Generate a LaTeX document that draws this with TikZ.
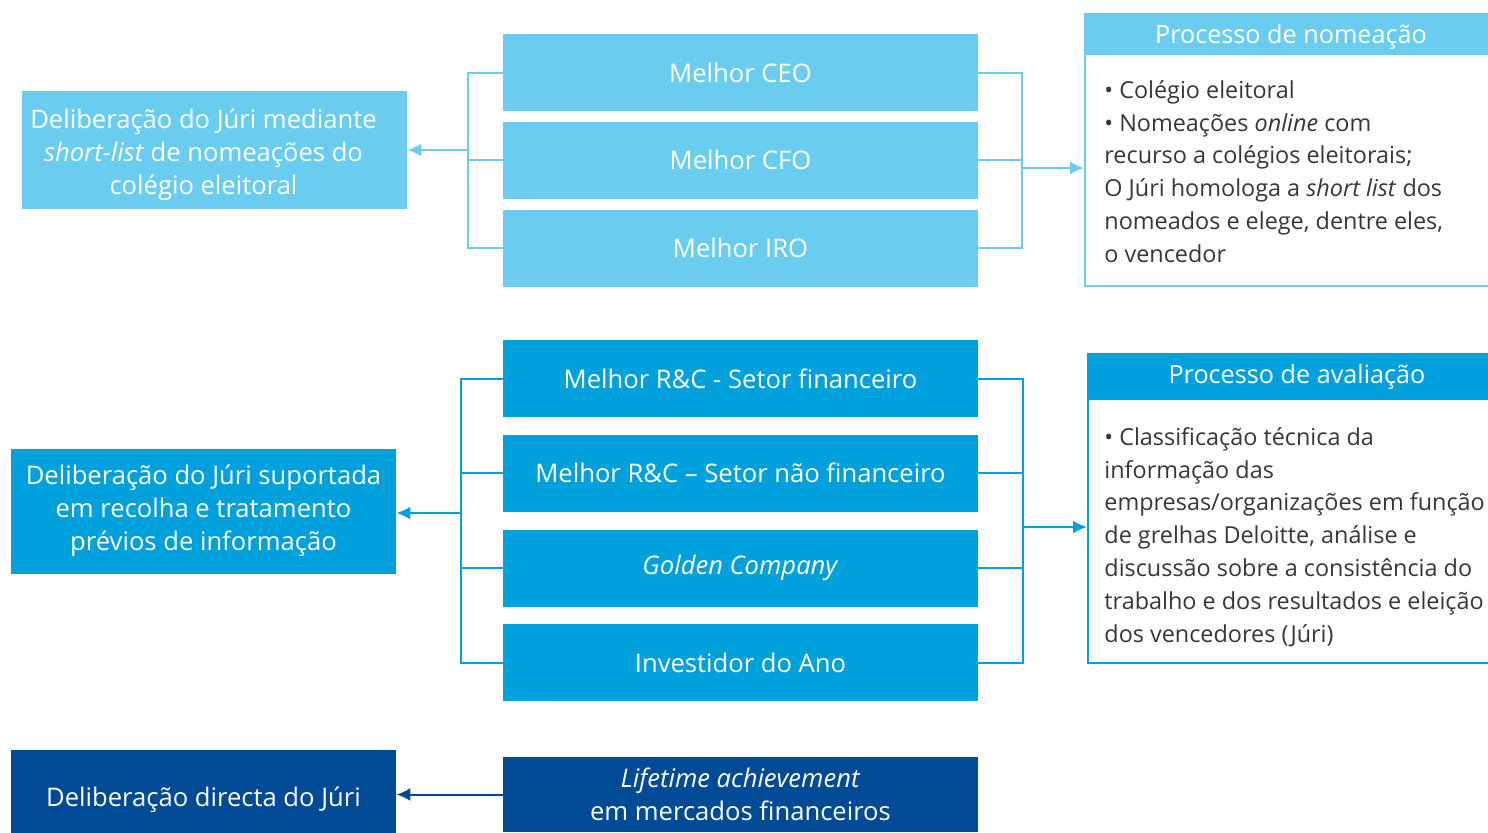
\documentclass[tikz,border=0pt]{standalone}
\usepackage{fontspec}
\setmainfont{Open Sans}
\usetikzlibrary{arrows.meta,positioning}
\definecolor{lightblue}{RGB}{106,205,240}
\definecolor{midblue}{RGB}{0,160,220}
\definecolor{darkblue}{RGB}{0,74,150}
\definecolor{bodygray}{RGB}{55,55,55}

\begin{document}
\begin{tikzpicture}[
  x=0.5pt, y=-0.5pt,
  node distance=5pt,
  award/.style={fill=#1, text=white, align=center, font=\fontsize{12.8}{16.5}\selectfont,
    minimum width=237.5pt, minimum height=38.5pt, inner sep=0pt},
  juri/.style={fill=#1, text=white, align=center, font=\fontsize{12.8}{16.5}\selectfont,
    minimum width=192.5pt, inner sep=0pt},
  juritext/.style={text=white, align=center, font=\fontsize{12.8}{16.5}\selectfont, inner sep=0pt},
  frame/.style={draw=#1, line width=1pt, fill=white, anchor=north west, inner sep=0pt},
  head/.style={fill=#1, anchor=north west, inner sep=0pt},
  title/.style={text=white, font=\fontsize{12.6}{15}\selectfont, inner sep=0pt},
  bodytext/.style={text=bodygray, align=left, font=\fontsize{11.7}{16.4}\selectfont,
    anchor=north west, inner sep=0pt},
  link/.style={draw=#1, line width=1pt},
  arrow/.style={link=#1, -{Latex[length=7pt, width=6.5pt]}}
]
\useasboundingbox (0,0) rectangle (1488,832);

% top group
\node[juri=lightblue, minimum height=59pt] (juriA) at (214.5,150) {};
\node[juritext] (juriAtext) at (203.5,155)
  {Deliberação do Júri mediante\\\textit{short-list} de nomeações do\\colégio eleitoral};
\node[award=lightblue] (ceo) at (740.5,72.5) {Melhor CEO};
\node[award=lightblue, below=of ceo] (cfo) {Melhor CFO};
\node[award=lightblue, below=of cfo] (iro) {Melhor IRO};

\node[frame=lightblue, minimum width=204pt, minimum height=136pt] (nomeacao) at (1084,13) {};
\node[head=lightblue, minimum width=204pt, minimum height=21pt] (nomeacaohead) at (1084,13) {};
\node[title] (nomeacaotitle) at (1291,37) {Processo de nomeação};
\node[bodytext] (nomeacaotext) at (1104,80)
  {• Colégio eleitoral\\• Nomeações \textit{online} com\\recurso a colégios eleitorais;\\O Júri homologa a \textit{short list} dos\\nomeados e elege, dentre eles,\\o vencedor};

\coordinate (spineA) at (468,150);
\coordinate (spineB) at (1022,168);
\draw[link=lightblue] (ceo.west) -| (spineA |- iro.west) -- (iro.west);
\draw[link=lightblue] (cfo.west) -- (cfo.west -| spineA);
\draw[arrow=lightblue] (spineA) -- (juriA.east);
\draw[link=lightblue] (ceo.east) -| (spineB |- iro.east) -- (iro.east);
\draw[link=lightblue] (cfo.east) -- (cfo.east -| spineB);
\draw[arrow=lightblue] (spineB) -- (spineB -| nomeacao.west);

% middle group
\node[juri=midblue, minimum height=62.5pt] (juriB) at (203.5,511)
  {Deliberação do Júri suportada\\em recolha e tratamento\\prévios de informação};
\node[award=midblue] (rcfin) at (740.5,378.5) {Melhor R\&C - Setor financeiro};
\node[award=midblue, below=8.5pt of rcfin] (rcnaofin) {Melhor R\&C – Setor não financeiro};
\node[award=midblue, below=8.5pt of rcnaofin] (golden) {\textit{Golden Company}};
\node[award=midblue, below=8.5pt of golden] (investidor) {Investidor do Ano};

\node[frame=midblue, minimum width=202.5pt, minimum height=154.5pt] (avaliacao) at (1087,353) {};
\node[head=midblue, minimum width=202.5pt, minimum height=23.5pt] (avaliacaohead) at (1087,353) {};
\node[title] (avaliacaotitle) at (1297,377) {Processo de avaliação};
\node[bodytext] (avaliacaotext) at (1104,427)
  {• Classificação técnica da\\informação das\\empresas/organizações em função\\de grelhas Deloitte, análise e\\discussão sobre a consistência do\\trabalho e dos resultados e eleição\\dos vencedores (Júri)};

\coordinate (spineC) at (461,513);
\coordinate (spineD) at (1023,527);
\draw[link=midblue] (rcfin.west) -| (spineC |- investidor.west) -- (investidor.west);
\draw[link=midblue] (rcnaofin.west) -- (rcnaofin.west -| spineC);
\draw[link=midblue] (golden.west) -- (golden.west -| spineC);
\draw[arrow=midblue] (spineC) -- (spineC -| juriB.east);
\draw[link=midblue] (rcfin.east) -| (spineD |- investidor.east) -- (investidor.east);
\draw[link=midblue] (rcnaofin.east) -- (rcnaofin.east -| spineD);
\draw[link=midblue] (golden.east) -- (golden.east -| spineD);
\draw[arrow=midblue] (spineD) -- (spineD -| avaliacao.west);

% bottom group
\node[juri=darkblue, minimum height=50pt] (juriC) at (203.5,800) {Deliberação directa do Júri};
\node[award=darkblue, minimum height=37.5pt] (lifetime) at (740.5,794.5)
  {\textit{Lifetime achievement}\\em mercados financeiros};
\draw[arrow=darkblue] (lifetime.west) -- (lifetime.west -| juriC.east);
\end{tikzpicture}
\end{document}
